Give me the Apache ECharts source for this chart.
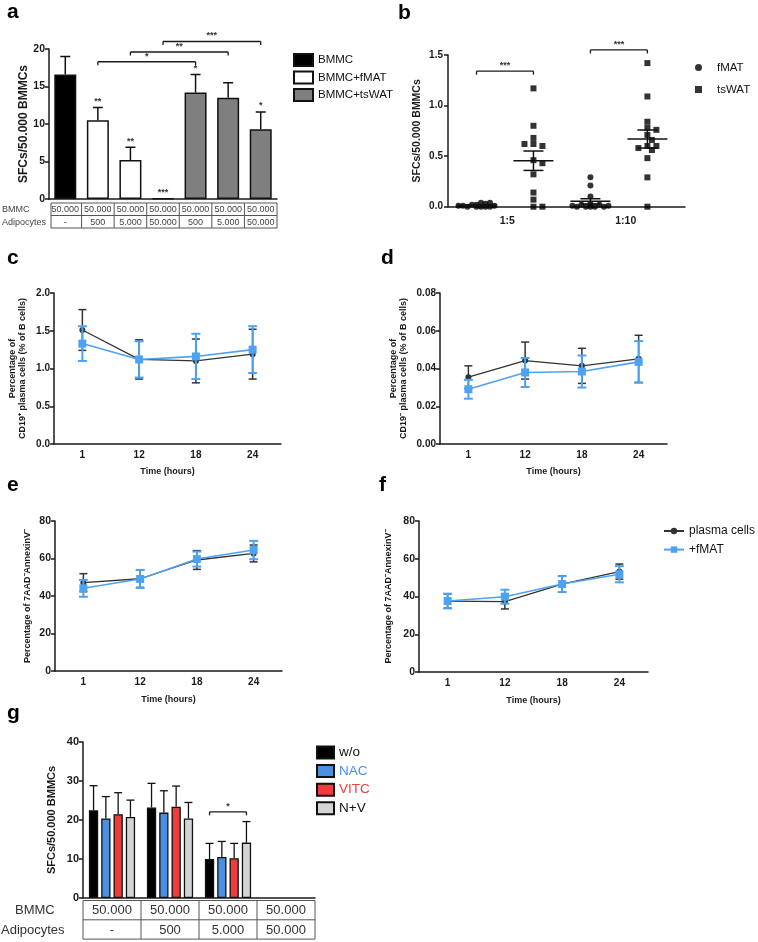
<!DOCTYPE html>
<html><head><meta charset="utf-8">
<script src="https://cdn.jsdelivr.net/npm/echarts@6/dist/echarts.min.js"></script>
<style>html,body{margin:0;padding:0;background:#fff}#c{width:758px;height:942px}</style>
</head><body><div id="c"></div>
<script>
const FONT = '"Liberation Sans", Arial, sans-serif';

// ---------- Panel a ----------
const aCategories = ['BMMC','fMAT 500','fMAT 5000','fMAT 50000','tsWAT 500','tsWAT 5000','tsWAT 50000'];
const aGroups = ['BMMC','BMMC+fMAT','BMMC+tsWAT'];
const aGroupOf = [0,1,1,1,2,2,2];
const aValues = [16.6,10.5,5.2,0.1,14.2,13.5,9.3];
const aErrors = [2.4,1.7,1.7,0,2.4,2.0,2.3];
const aStars = ['','**','**','***','*','','*'];
const aBrackets = [[1,4,18.3,'*'],[2,5,19.6,'**'],[3,6,21.0,'***']];
const aRowBMMC = ['50.000','50.000','50.000','50.000','50.000','50.000','50.000'];
const aRowAdipo = ['-','500','5.000','50.000','500','5.000','50.000'];

// ---------- Panel b ----------
const bLabels = ['1:5','1:10'];
const bColumns = [1,2,3,4];            // column ordinals: fMAT 1:5, tsWAT 1:5, fMAT 1:10, tsWAT 1:10
const bFmat15 = [0,0,0,0.01,0.01,0.04,0.02,0.04,0.01,0,0.02,0.03,0];
const bTswat15 = [1.17,0.80,0.68,0.62,0.60,0.62,0.46,0.43,0.32,0.14,0.07,0,0];
const bFmat110 = [0.29,0.21,0.10,0.03,0.02,0.02,0.01,0.01,0,0,0,0,0];
const bTswat110 = [1.42,1.09,0.84,0.78,0.76,0.71,0.66,0.60,0.60,0.58,0.56,0.48,0.29,0];
const bBrackets = [[1,2,1.34,'***'],[3,4,1.55,'***']];

// ---------- Panels c-f ----------
const timeLabels = ['1','12','18','24'];
const cBlack = [1.51,1.12,1.10,1.19], cBlackErr = [0.27,0.26,0.29,0.33];
const cBlue = [1.33,1.12,1.16,1.25], cBlueErr = [0.23,0.24,0.30,0.31];
const dBlack = [0.0354,0.0442,0.0414,0.0451], dBlackErr = [0.006,0.0098,0.0093,0.0125];
const dBlue = [0.029,0.0379,0.0384,0.0435], dBlueErr = [0.005,0.0077,0.0085,0.011];
const eBlack = [47.1,49.2,59.2,62.7], eBlackErr = [4.8,4.6,5.0,4.5];
const eBlue = [44.1,49.1,59.7,64.5], eBlueErr = [4.5,4.8,4.0,4.9];
const fBlack = [37.6,37.3,46.6,53.2], fBlackErr = [3.8,3.9,4.3,4.0];
const fBlue = [37.6,39.9,46.6,51.8], fBlueErr = [3.9,3.7,4.2,4.3];

// ---------- Panel g ----------
const gCategories = ['500a','500b','5000','50000'];
const gGroups = ['w/o','NAC','VITC','N+V'];
const gValues = [[22.5,23.2,10.0,null],[20.4,21.9,10.5,null],[21.5,23.4,10.2,null],[20.8,20.4,14.2,null]];
const gErrors = [[6.3,6.2,4.0,null],[5.6,5.6,4.0,null],[5.5,5.3,3.8,null],[4.3,4.1,5.4,null]];
const gBrackets = [[2,0,3,22.1,'*']];
const gRowBMMC = ['50.000','50.000','50.000','50.000'];
const gRowAdipo = ['-','500','5.000','50.000'];

// ---------- layout / style ----------
const G = {
  a:{left:49, top:49, width:228, height:150},
  b:{left:448, top:55, width:237, height:151.7},
  c:{left:54, top:293, width:227, height:151},
  d:{left:440, top:293, width:227, height:151},
  e:{left:55, top:521, width:227, height:150},
  f:{left:419, top:521, width:229, height:151},
  g:{left:83, top:742, width:232, height:156}
};
const INK = '#1a1a1a';
const BLUE = '#4ea2f2';
const gColors = ['#000000','#4a90e2','#f03c3c','#d4d4d4'];
const aColors = ['#000000','#ffffff','#7f7f7f'];
const gBarW = 9.3, gBarGap = 3;

const chart = echarts.init(document.getElementById('c'), null, {renderer:'canvas'});

function yAx(grid, min, max, interval, dec, name, nameGap, nameSize, labelSize){
  return {
    type:'value', gridIndex:grid, min, max, interval,
    axisLine:{show:true, lineStyle:{color:INK, width:1.5}},
    axisTick:{show:true, length:4, lineStyle:{color:INK, width:1.5}},
    splitLine:{show:false},
    axisLabel:{color:INK, fontFamily:FONT, fontWeight:'bold', fontSize:labelSize, margin:4,
      formatter:v=>v.toFixed(dec)},
    name, nameLocation:'middle', nameGap, nameRotate:90, nameMoveOverlap:false,
    nameTextStyle:{color:INK, fontFamily:FONT, fontWeight:'bold', fontSize:nameSize, lineHeight:nameSize+1.5}
  };
}
function xCat(grid, data, showLabel, extra){
  return Object.assign({
    type:'category', gridIndex:grid, data, boundaryGap:true, position:'bottom',
    axisLine:{show:true, onZero:false, lineStyle:{color:INK, width:1.5}},
    axisTick:{show:false}, splitLine:{show:false},
    axisLabel:{show:showLabel, color:INK, fontFamily:FONT, fontWeight:'bold', fontSize:10, margin:6, interval:0}
  }, extra||{});
}
function timeAx(grid, gap){
  return xCat(grid, timeLabels, true, {name:'Time (hours)', nameLocation:'middle', nameGap:gap, nameMoveOverlap:false,
    nameTextStyle:{color:INK, fontFamily:FONT, fontWeight:'bold', fontSize:9}});
}

function line(x1,y1,x2,y2,color,w){
  return {type:'line', shape:{x1,y1,x2,y2}, style:{stroke:color, lineWidth:w}};
}
function txt(x,y,text,font,fill,align,valign){
  return {type:'text', x, y, style:{text, font, fill, align, verticalAlign:valign, textAlign:align, textVerticalAlign:valign}};
}
function errRender(opt){
  return function(params, api){
    const x = api.value(0), y = api.value(1), e = api.value(2);
    if (y == null || isNaN(y) || isNaN(e) || !(e > 0)) return null;
    const top = api.coord([x, y + e]);
    const bot = api.coord([x, opt.both ? y - e : y]);
    const cx = top[0] + (opt.offset || 0), h = opt.cap / 2;
    const ch = [line(cx, top[1], cx, bot[1], opt.color, opt.width),
                line(cx - h, top[1], cx + h, top[1], opt.color, opt.width)];
    if (opt.both) ch.push(line(cx - h, bot[1], cx + h, bot[1], opt.color, opt.width));
    return {type:'group', children:ch};
  };
}
function errSeries(grid, vals, errs, opt){
  return {
    type:'custom', xAxisIndex:grid.x, yAxisIndex:grid.y, z:opt.z || 3, silent:true,
    data: vals.map((v,i)=>[i, v == null ? NaN : v, errs[i] == null ? NaN : errs[i]]),
    encode:{x:0, y:1}, renderItem: errRender(opt)
  };
}
function bracketSeries(xi, yi, list, offFn){
  return {
    type:'custom', xAxisIndex:xi, yAxisIndex:yi, z:4, silent:true, clip:false,
    data: list.map(b=>[b[0], b[1], b[2]]), encode:{x:[0,1], y:2},
    renderItem:function(params, api){
      const b = list[params.dataIndex];
      const o = offFn ? offFn(b) : [0,0];
      const p1 = api.coord([b[0], b[2]]), p2 = api.coord([b[1], b[2]]);
      const x1 = p1[0] + o[0], x2 = p2[0] + o[1], y = p1[1];
      return {type:'group', children:[
        line(x1, y + 3.5, x1, y, INK, 1.3), line(x1, y, x2, y, INK, 1.3), line(x2, y, x2, y + 3.5, INK, 1.3),
        txt((x1 + x2) / 2, y - 1, b[3], 'bold 9px ' + FONT, '#333', 'center', 'bottom')
      ]};
    }
  };
}
function mean(a){ return a.reduce((s,v)=>s+v,0)/a.length; }
function sem(a){ const m = mean(a); return Math.sqrt(a.reduce((s,v)=>s+(v-m)*(v-m),0)/(a.length-1))/Math.sqrt(a.length); }
// beeswarm-like horizontal spreading (pixel offsets), width-limited like the original dot plot
function swarm(values, pxPerUnit, size, step, maxSteps){
  const placed = [], offs = [];
  const cand = [0]; for (let j = 1; j <= maxSteps; j++) cand.push(j*step, -j*step);
  values.forEach(v=>{
    const y = v * pxPerUnit; let best = 0, bestD = -1;
    for (const c of cand){
      const d = placed.length ? Math.min(...placed.map(p=>Math.hypot(p[0]-c, p[1]-y))) : Infinity;
      if (d >= size){ best = c; bestD = d; break; }
      if (d > bestD){ bestD = d; best = c; }
    }
    placed.push([best, y]); offs.push(best);
  });
  return offs;
}

const grids = ['a','b','c','d','e','f','g'].map(k=>Object.assign({}, G[k], {containLabel:false, outerBoundsMode:'none'}));
const xAxis = [
  xCat(0, aCategories, false),
  xCat(1, bLabels, true, {axisLabel:{show:true, color:INK, fontFamily:FONT, fontWeight:'bold', fontSize:10.5, margin:9}}),
  timeAx(2, 23),
  timeAx(3, 23),
  timeAx(4, 24),
  timeAx(5, 24),
  xCat(6, gCategories, false),
  {type:'value', gridIndex:1, min:0.5, max:4.66, show:false, splitLine:{show:false}}   // 7: b column positions
];
const yAxis = [
  yAx(0, 0, 20, 5, 0, 'SFCs/50.000 BMMCs', 19, 12, 10.5),
  yAx(1, 0, 1.5, 0.5, 1, 'SFCs/50.000 BMMCs', 24.5, 10.5, 10),
  yAx(2, 0, 2.0, 0.5, 1, 'Percentage of\nCD19\u207a plasma cells (% of B cells)', 26, 9, 10),
  yAx(3, 0, 0.08, 0.02, 2, 'Percentage of\nCD19\u207b plasma cells (% of B cells)', 31, 9, 10),
  yAx(4, 0, 80, 20, 0, 'Percentage of 7AAD\u207bAnnexinV\u207b', 22.5, 9, 10.5),
  yAx(5, 0, 80, 20, 0, 'Percentage of 7AAD\u207bAnnexinV\u207b', 25, 9, 10.5),
  yAx(6, 0, 40, 10, 0, 'SFCs/50.000 BMMCs', 24.5, 11, 11)
];
yAxis[1].axisLabel.margin = 5;

const series = [];
// ---- a bars
aGroups.forEach((g, gi)=>{
  series.push({
    type:'bar', name:g, xAxisIndex:0, yAxisIndex:0, barWidth:22, barGap:'-100%',
    data: aValues.map((v,i)=> aGroupOf[i] === gi ? v : '-'),
    itemStyle:{color:aColors[gi], borderColor:'#111', borderWidth:1.5}, z:2
  });
});
series.push(errSeries({x:0,y:0}, aValues, aErrors, {color:'#111', width:1.5, cap:10}));
series.push({
  type:'custom', xAxisIndex:0, yAxisIndex:0, z:4, silent:true, clip:false,
  data: aValues.map((v,i)=>[i, v + aErrors[i]]), encode:{x:0, y:1},
  renderItem:function(params, api){
    const s = aStars[params.dataIndex]; if (!s) return null;
    const p = api.coord([api.value(0), api.value(1)]);
    return txt(p[0], p[1] - 1.5, s, 'bold 9px ' + FONT, '#333', 'center', 'bottom');
  }
});
series.push(bracketSeries(0, 0, aBrackets));

// ---- b dot plot
const bGroupsData = [bFmat15, bTswat15, bFmat110, bTswat110];
const bPx = G.b.height / 1.5;
const bSeriesDef = [['fMAT','circle',[0,2]],['tsWAT','rect',[1,3]]];
bSeriesDef.forEach(([name, sym, idxs])=>{
  const data = [];
  idxs.forEach(ci=>{
    const vals = bGroupsData[ci];
    const offs = swarm(vals, bPx, 6, 4.5, 4);
    vals.forEach((v,k)=>data.push({value:[bColumns[ci], v], symbolOffset:[offs[k], 0]}));
  });
  series.push({type:'scatter', name, xAxisIndex:7, yAxisIndex:1, symbol:sym, symbolSize:6,
    itemStyle:{color:'#000'}, data, z:3, clip:false});
});
series.push({
  type:'custom', xAxisIndex:7, yAxisIndex:1, z:5, silent:true,
  data: bGroupsData.map((vals,i)=>[bColumns[i], mean(vals), sem(vals)]), encode:{x:0, y:1},
  renderItem:function(params, api){
    const x = api.value(0), m = api.value(1), s = api.value(2);
    const pm = api.coord([x, m]), pt = api.coord([x, m + s]), pb = api.coord([x, Math.max(0, m - s)]);
    return {type:'group', children:[
      line(pm[0]-20, pm[1], pm[0]+20, pm[1], '#111', 1.5),
      line(pt[0], pt[1], pb[0], pb[1], '#111', 1.5),
      line(pt[0]-10, pt[1], pt[0]+10, pt[1], '#111', 1.5),
      line(pb[0]-10, pb[1], pb[0]+10, pb[1], '#111', 1.5)
    ]};
  }
});
series.push(bracketSeries(7, 1, bBrackets));

// ---- c-f lines
[[2, cBlack, cBlackErr, cBlue, cBlueErr],[3, dBlack, dBlackErr, dBlue, dBlueErr],
 [4, eBlack, eBlackErr, eBlue, eBlueErr],[5, fBlack, fBlackErr, fBlue, fBlueErr]].forEach(([gi, bk, bkE, bl, blE])=>{
  series.push({type:'line', name:'plasma cells', xAxisIndex:gi, yAxisIndex:gi, data:bk, symbol:'circle', symbolSize:6,
    lineStyle:{color:'#333', width:1.3}, itemStyle:{color:'#333'}, z:3});
  series.push(errSeries({x:gi,y:gi}, bk, bkE, {color:'#333', width:1.5, cap:8, both:true, z:3}));
  series.push({type:'line', name:'+fMAT', xAxisIndex:gi, yAxisIndex:gi, data:bl, symbol:'rect', symbolSize:8,
    lineStyle:{color:BLUE, width:1.6}, itemStyle:{color:BLUE}, z:4});
  series.push(errSeries({x:gi,y:gi}, bl, blE, {color:BLUE, width:2, cap:9, both:true, z:4}));
});

// ---- g bars
const gOffset = i => (i - (gGroups.length - 1) / 2) * (gBarW + gBarGap);
gGroups.forEach((name, si)=>{
  series.push({type:'bar', name, xAxisIndex:6, yAxisIndex:6, barWidth:gBarW, barGap:(gBarGap/gBarW*100).toFixed(1)+'%',
    data: gValues[si].map(v=> v == null ? '-' : v),
    itemStyle:{color:gColors[si], borderColor:'#111', borderWidth:1.3}, z:2});
});
gGroups.forEach((name, si)=>{
  series.push(errSeries({x:6,y:6}, gValues[si], gErrors[si], {color:'#111', width:1.3, cap:8, offset:gOffset(si)}));
});
series.push(bracketSeries(6, 6, gBrackets.map(b=>[b[0], b[0], b[3], b[4], b[1], b[2]]), b=>[gOffset(b[4]), gOffset(b[5])]));

// ---- graphics: panel letters and tables
const graphics = [];
[['a',7,23],['b',398,24],['c',7,269],['d',381,269],['e',7,496],['f',379,496],['g',7,724]].forEach(([t,x,y])=>{
  graphics.push({type:'text', x, y, style:{text:t, font:'bold 21px ' + FONT, fill:'#000', textVerticalAlign:'bottom', verticalAlign:'bottom'}});
});
function table(grid, rows, rowLabels, labelXs, top, rowH, font, color, lineColor, leftInset){
  const n = rows[0].length, cw = grid.width / n;
  const L = grid.left + (leftInset || 0), R = grid.left + grid.width, B = top + rowH * rows.length;
  graphics.push({type:'rect', shape:{x:L, y:top, width:R-L, height:B-top}, style:{fill:null, stroke:lineColor, lineWidth:1}});
  for (let r = 1; r < rows.length; r++) graphics.push({type:'line', shape:{x1:L, y1:top+r*rowH, x2:R, y2:top+r*rowH}, style:{stroke:lineColor, lineWidth:1}});
  for (let c = 1; c < n; c++) graphics.push({type:'line', shape:{x1:grid.left+c*cw, y1:top, x2:grid.left+c*cw, y2:B}, style:{stroke:lineColor, lineWidth:1}});
  rows.forEach((row, r)=>{
    row.forEach((t, c)=>{
      graphics.push({type:'text', x:grid.left + (c + 0.5) * cw, y:top + (r + 0.5) * rowH + 0.5,
        style:{text:t, font, fill:color, textAlign:'center', textVerticalAlign:'middle', align:'center', verticalAlign:'middle'}});
    });
    graphics.push({type:'text', x:labelXs[r], y:top + (r + 0.5) * rowH + 0.5,
      style:{text:rowLabels[r], font, fill:color, textAlign:'left', textVerticalAlign:'middle', align:'left', verticalAlign:'middle'}});
  });
}
table(G.a, [aRowBMMC, aRowAdipo], ['BMMC','Adipocytes'], [2,2], 203, 12.5, '9px ' + FONT, '#444', '#555', 2);
table(G.g, [gRowBMMC, gRowAdipo], ['BMMC','Adipocytes'], [15,1], 900.5, 19.3, '13px ' + FONT, '#333', '#555', 0);

const legendBase = {orient:'vertical', selectedMode:false, padding:0};
const legends = [
  Object.assign({}, legendBase, {data:aGroups, left:293, top:53, itemWidth:19, itemHeight:12, itemGap:3.5, icon:'rect',
    textStyle:{fontFamily:FONT, color:'#111', fontSize:11.5}}),
  Object.assign({}, legendBase, {data:[{name:'fMAT', icon:'circle'},{name:'tsWAT', icon:'rect'}], left:695, top:61.5, itemWidth:7, itemHeight:7, itemGap:10,
    textStyle:{fontFamily:FONT, color:'#111', fontSize:11.5, padding:[0,0,0,10]}}),
  Object.assign({}, legendBase, {data:['plasma cells','+fMAT'], left:663, top:525, itemWidth:20, itemHeight:8, itemGap:6.6,
    textStyle:{fontFamily:FONT, color:'#111', fontSize:12}}),
  Object.assign({}, legendBase, {data:[{name:'w/o'},{name:'NAC', textStyle:{color:'#4a90e2'}},{name:'VITC', textStyle:{color:'#f03c3c'}},{name:'N+V'}],
    left:316, top:745.5, itemWidth:17, itemHeight:12, itemGap:4.6, icon:'rect',
    textStyle:{fontFamily:FONT, color:'#111', fontSize:13.5}})
];

chart.setOption({
  animation:false, backgroundColor:'#fff',
  textStyle:{fontFamily:FONT},
  grid:grids, xAxis, yAxis, series, legend:legends, graphic:{elements:graphics}
});
</script></body></html>
